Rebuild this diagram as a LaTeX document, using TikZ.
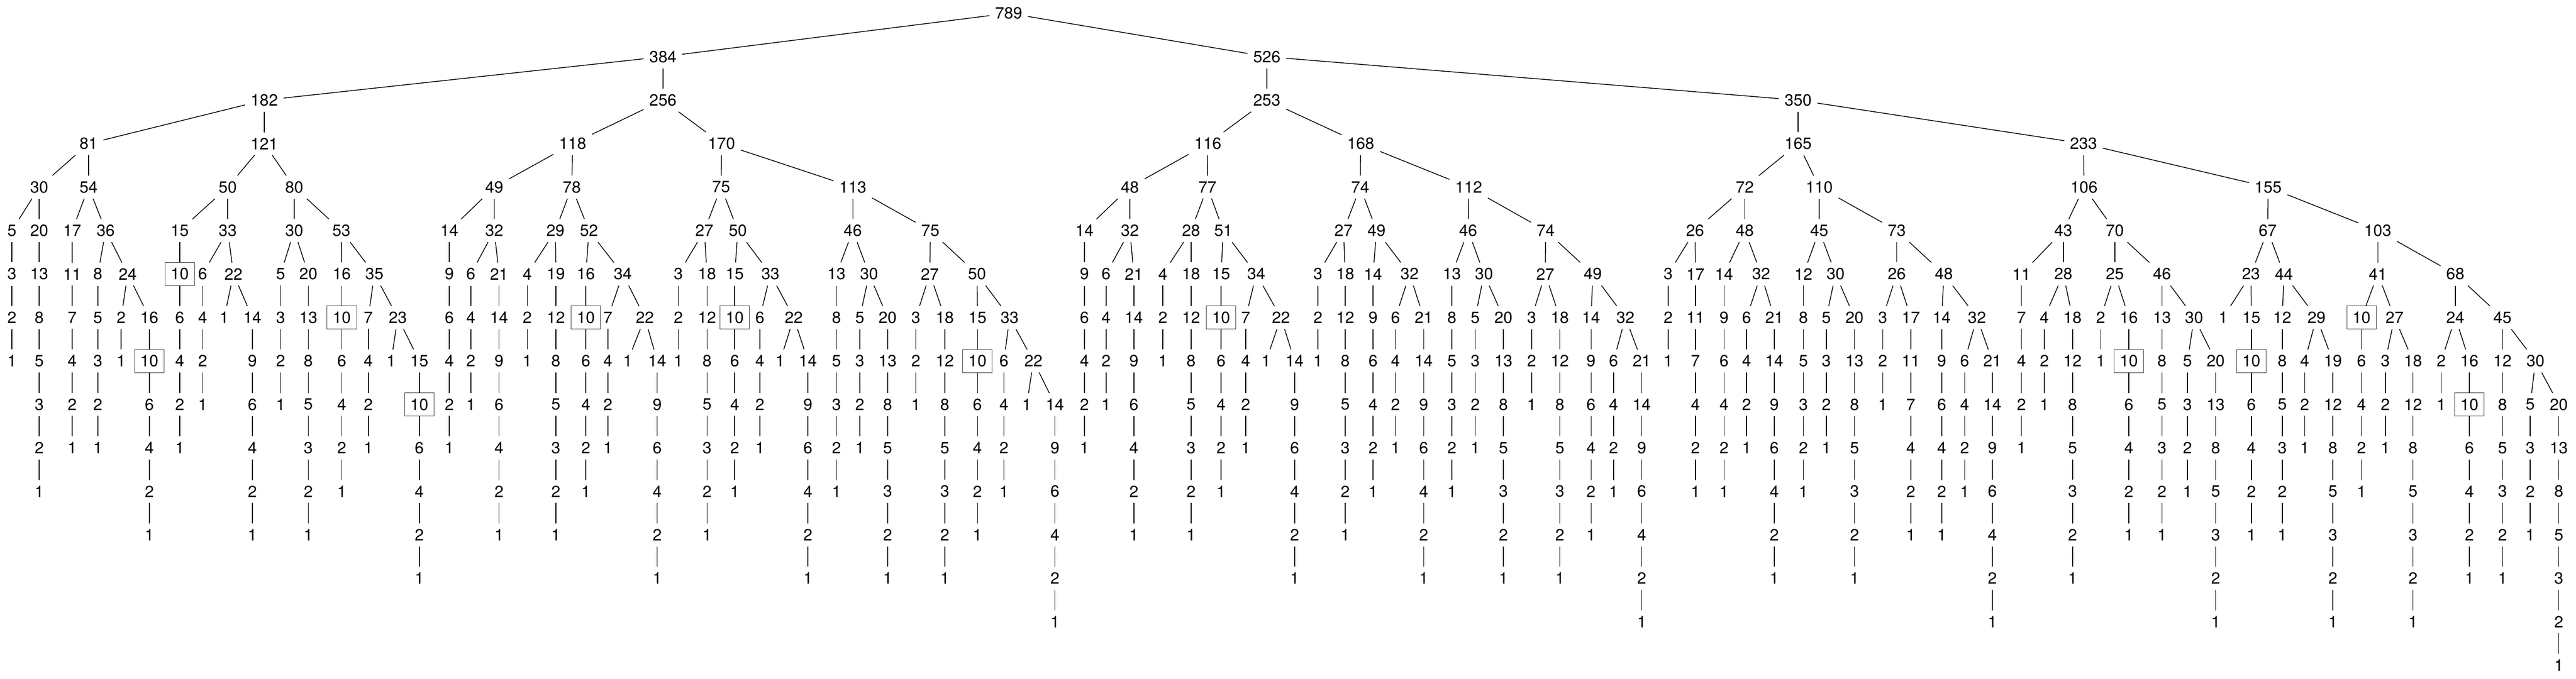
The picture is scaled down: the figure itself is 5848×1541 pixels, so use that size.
\documentclass[tikz,border=0pt]{standalone}
\usepackage{fontspec}
\setmainfont{TeX Gyre Heros}
\tikzset{
  num/.style={inner sep=0.13cm, outer sep=0pt, font=\fontsize{10.5}{12}\selectfont},
  boxed/.style={draw=black!75, line width=0.3pt},
  edge/.style={line width=0.5pt}
}
\newcount\ta
\newcounter{tnode}
% x positions of the two children of every branching node (preorder)
\def\xlist{1505,2876,% 789
600,1505,201,600,89,201,27,89,164,240,222,290,275,339,% 384 182 81 30 54 36 24
517,668,408,517,460,530,509,573,% 121 50 33 22
668,775,637,700,776,850,836,903,888,952,% 80 30 53 35 23
1300,1638,1122,1298,1020,1122,1069,1133,% 256 118 49 32
1261,1337,1197,1262,1330,1414,1380,1464,1425,1492,% 78 29 52 34 22
1637,1936,1599,1675,1540,1605,1668,1749,1725,1802,1771,1834,% 170 75 27 50 33 22
1936,2112,1899,1973,1952,2015,% 113 46 30
2111,2218,2079,2145,2219,2292,2279,2346,2331,2395,% 75 27 50 33 22
2876,4082,2742,3089,2565,2741,2462,2565,2511,2574,% 526 253 116 48 32
2704,2777,2640,2704,2772,2852,2828,2908,2874,2939,% 77 28 51 34 22
3088,3334,3050,3125,2992,3054,3117,3200,3168,3232,% 168 74 27 49 32
3333,3509,3296,3369,3349,3413,% 112 46 30
3508,3616,3477,3541,3612,3690,3663,3727,% 74 27 49 32
4082,4730,3961,4130,3848,3961,3787,3849,3914,3998,3965,4028,% 350 165 72 26 48 32
4130,4306,4094,4167,4146,4210,% 110 45 30
4306,4413,4274,4338,4408,4488,4460,4523,% 73 26 48 32
4731,5149,4684,4801,4589,4684,4641,4705,% 233 106 43 28
4801,4908,4769,4833,4908,4981,4966,5030,% 70 25 46 30
5148,5398,5110,5185,5047,5111,5181,5259,5232,5296,% 155 67 23 44 29
5398,5574,5361,5436,5415,5478,% 103 41 27
5574,5681,5542,5606,5681,5756,5744,5809,}% 68 24 45 30
\def\popxx#1,#2\relax{\gdef\xnext{#1}\gdef\xlist{#2}}
\newcommand\popx{\expandafter\popxx\xlist\relax}
% node n: children n/2-10 and 2n/3
\newcommand\grow[4]{%
  \edef\tval{#1}\edef\tlev{#2}\edef\txx{#3}\edef\tpar{#4}%
  \stepcounter{tnode}\edef\tme{t\arabic{tnode}}%
  \ifnum\tval=10 \tikzset{cur/.style=boxed}\else\tikzset{cur/.style={}}\fi
  \node[num,cur] (\tme) at (\txx,{30+98.7*\tlev}) {\tval};
  \ifx\tpar\empty\else\draw[edge] (\tpar) -- (\tme);\fi
  \ta=\tval\relax\divide\ta by 2 \advance\ta by -10 \edef\lval{\the\ta}%
  \ta=\tval\relax\multiply\ta by 2 \divide\ta by 3 \edef\rval{\the\ta}%
  \ta=\tlev\relax\advance\ta by 1 \edef\nlev{\the\ta}%
  \ifnum\lval>0
    \popx\let\xl\xnext\popx\let\xr\xnext
    {\grow{\lval}{\nlev}{\xl}{\tme}}%
    {\grow{\rval}{\nlev}{\xr}{\tme}}%
  \else\ifnum\rval>0
    {\grow{\rval}{\nlev}{\txx}{\tme}}%
  \fi\fi}
\begin{document}
\begin{tikzpicture}[x=0.01cm,y=-0.01cm]
  \useasboundingbox (0,0) rectangle (5848,1541);
  \grow{789}{0}{2290}{} % whole tree from the root
\end{tikzpicture}
\end{document}
